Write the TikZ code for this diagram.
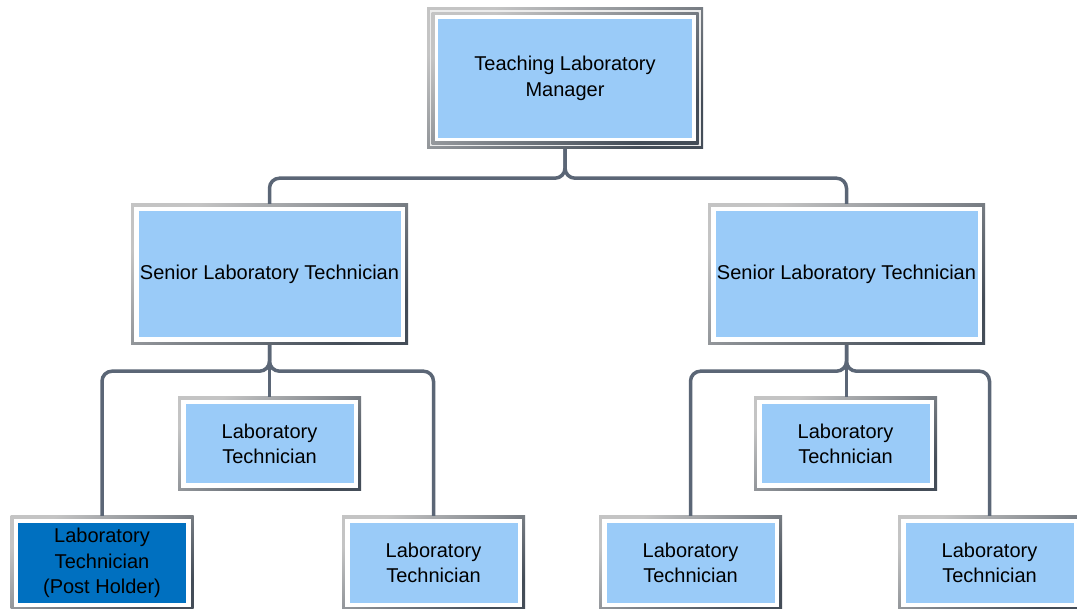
\documentclass[tikz,border=0pt]{standalone}
\usepackage{fontspec}
\setmainfont{Liberation Sans}
\definecolor{lblue}{HTML}{9ACBF8}
\definecolor{dblue}{HTML}{0070C0}
\definecolor{frameT}{HTML}{C4C4C4}
\definecolor{frameB}{HTML}{444D58}
\definecolor{connc}{HTML}{5B6676}
\newcommand{\labfont}{\fontsize{20}{25.5}\selectfont}
\tikzset{
  box/.style={rectangle, inner sep=0pt, align=center, font=\labfont, text=black,
    top color=frameT, bottom color=frameB, shading angle=35,
    path picture={
      \fill[white] ([shift={(3pt,3pt)}]path picture bounding box.south west)
        rectangle ([shift={(-3pt,-3pt)}]path picture bounding box.north east);
      \fill[#1] ([shift={(7.5pt,7.5pt)}]path picture bounding box.south west)
        rectangle ([shift={(-7.5pt,-7.5pt)}]path picture bounding box.north east);
    }},
  box/.default=lblue,
  mbox/.style={rectangle, inner sep=0pt, align=center, font=\labfont, text=black,
    top color=frameT, bottom color=frameB, shading angle=35,
    path picture={
      \fill[gray!15] ([shift={(2.5pt,2.5pt)}]path picture bounding box.south west)
        rectangle ([shift={(-2.5pt,-2.5pt)}]path picture bounding box.north east);
      \shade[top color=frameT, bottom color=frameB, shading angle=35]
        ([shift={(4.5pt,4.5pt)}]path picture bounding box.south west)
        rectangle ([shift={(-4.5pt,-4.5pt)}]path picture bounding box.north east);
      \fill[white] ([shift={(7.5pt,7.5pt)}]path picture bounding box.south west)
        rectangle ([shift={(-7.5pt,-7.5pt)}]path picture bounding box.north east);
      \fill[lblue] ([shift={(11pt,11pt)}]path picture bounding box.south west)
        rectangle ([shift={(-11pt,-11pt)}]path picture bounding box.north east);
    }},
  big/.style={minimum width=277pt, minimum height=141pt},
  small/.style={minimum width=183pt, minimum height=94pt},
  conn/.style={draw=connc, line width=3.5pt, rounded corners=10pt}
}
\begin{document}
\begin{tikzpicture}[x=1pt,y=-1pt]
\useasboundingbox[fill=white] (0,0) rectangle (1077,609);
\begin{scope}
\clip (0,0) rectangle (1077,609);
\node[mbox, minimum width=276pt, minimum height=141pt] (mgr) at (565,78.5) {Teaching Laboratory\\Manager};
\node[box, big] (s1) at (269.5,274.5) {Senior Laboratory Technician};
\node[box, big] (s2) at (846.5,274.5) {Senior Laboratory Technician};
\node[box, small] (t1) at (269.5,444) {Laboratory\\Technician};
\node[box=dblue, small] (t2) at (102,563) {Laboratory\\Technician\\(Post Holder)};
\node[box, small] (t3) at (433.5,563) {Laboratory\\Technician};
\node[box, small] (t4) at (845.5,444) {Laboratory\\Technician};
\node[box, small] (t5) at (690.5,563) {Laboratory\\Technician};
\node[box, small] (t6) at (989.5,563) {Laboratory\\Technician};

\draw[conn] (mgr.south) -- ++(0,29) -| (s1.north);
\draw[conn] (mgr.south) -- ++(0,29) -| (s2.north);
\draw[conn] (s1.south) -- ++(0,26) -| (t2.north);
\draw[conn] (s1.south) -- ++(0,26) -| (t3.north);
\draw[conn] (s1.south) -- (t1.north);
\draw[conn] (s2.south) -- ++(0,26) -| (t5.north);
\draw[conn] (s2.south) -- ++(0,26) -| (t6.north);
\draw[conn] (s2.south) -- (s2.south |- t4.north);
\end{scope}
\end{tikzpicture}
\end{document}
